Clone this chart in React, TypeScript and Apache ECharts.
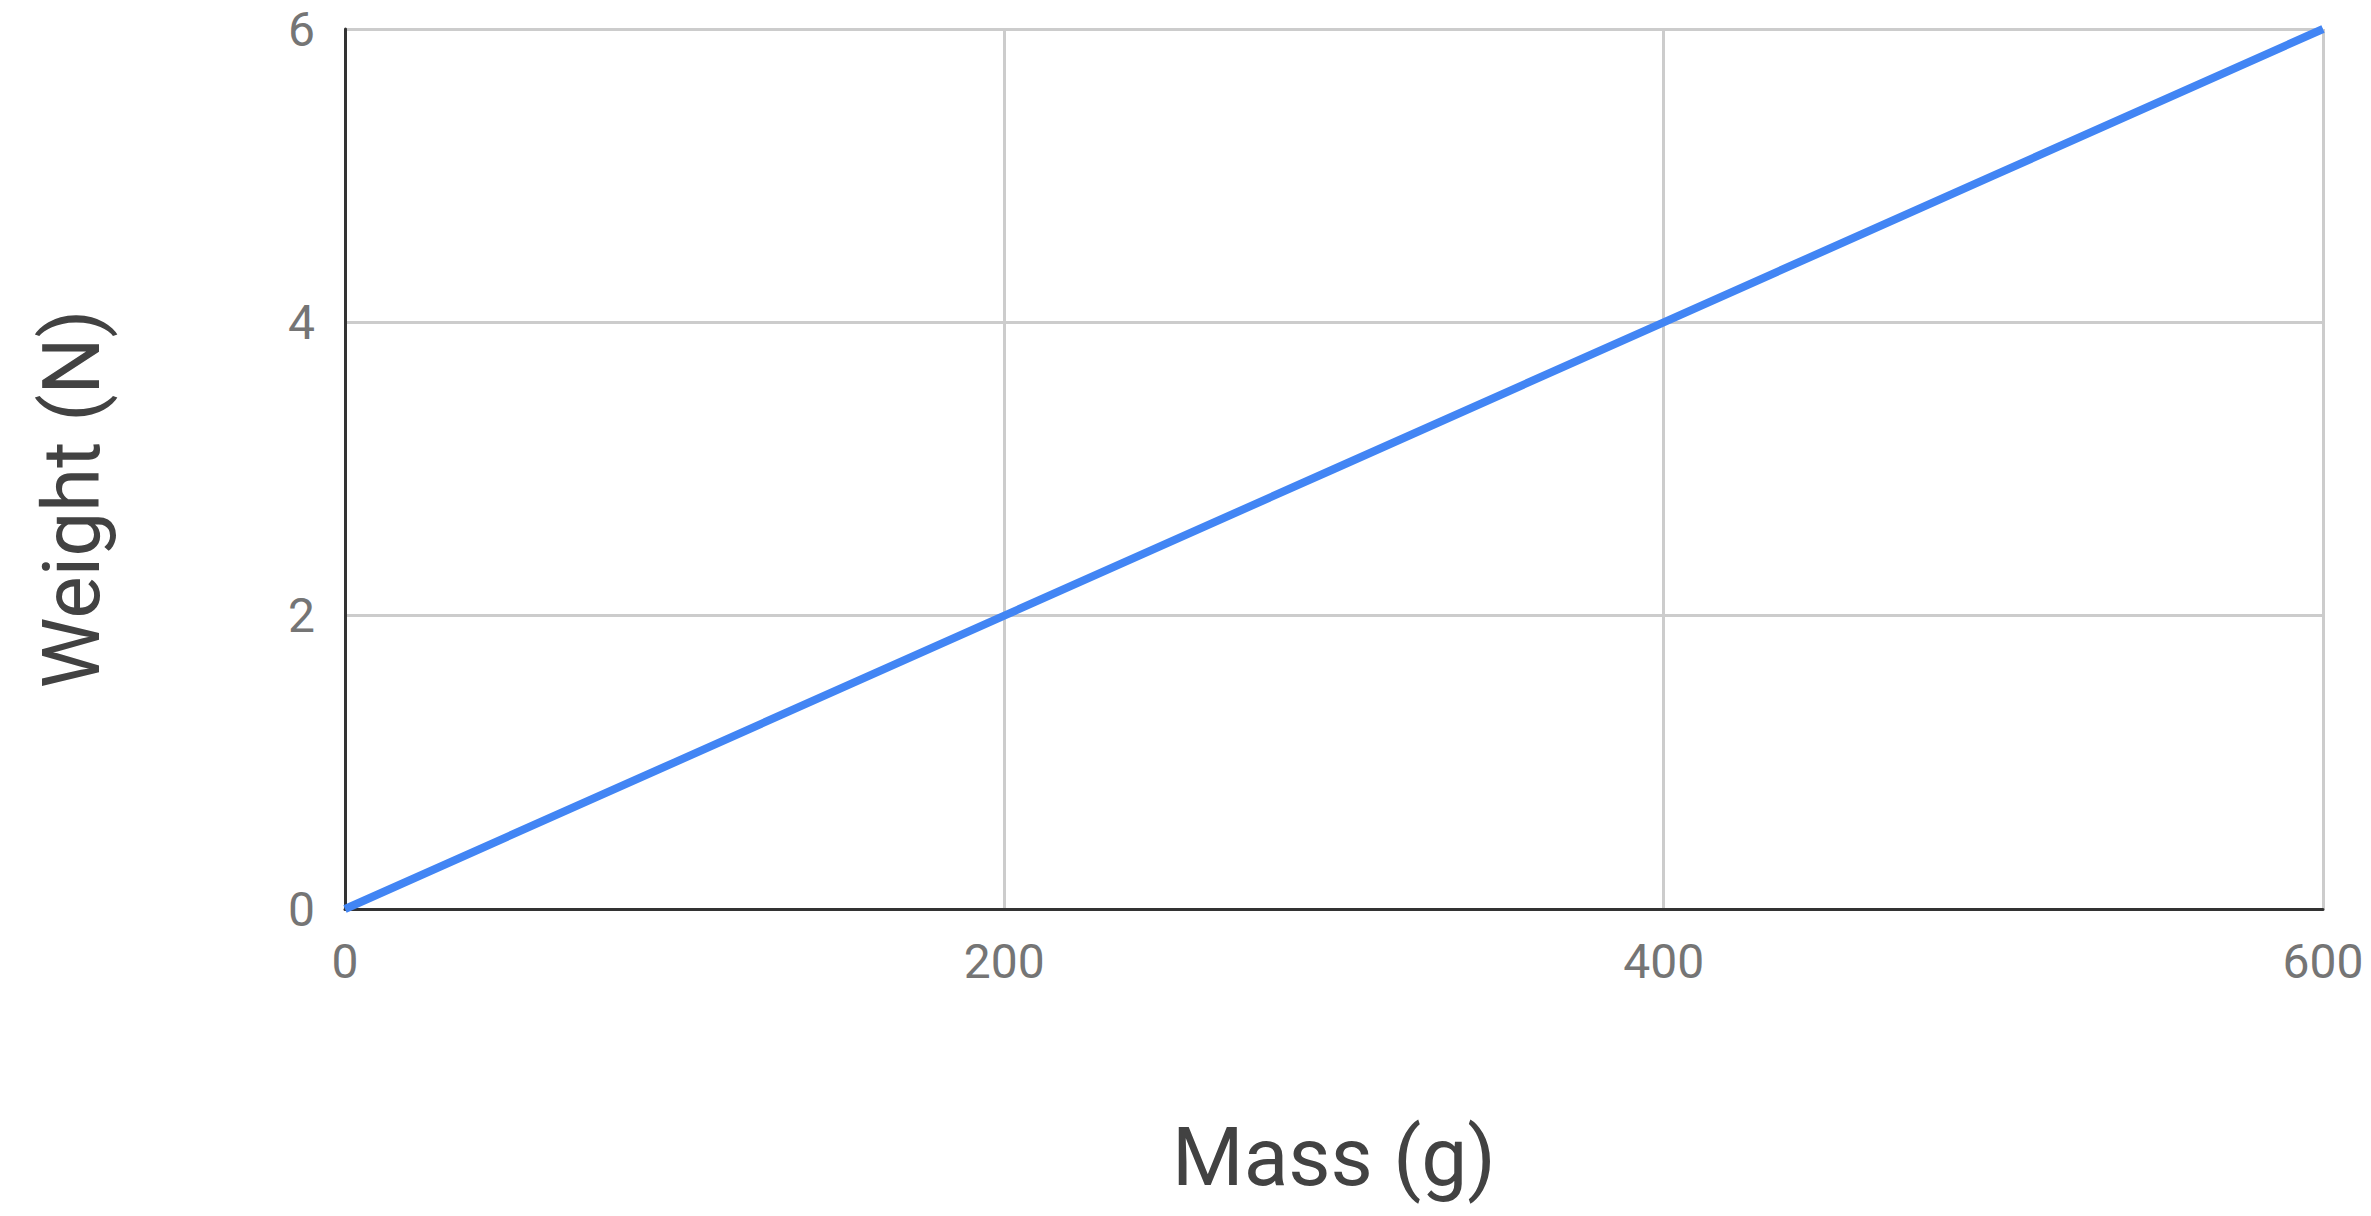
import React, { useEffect, useRef } from "react";
import * as echarts from "echarts";

const massValues = [0, 100, 200, 300, 400, 500, 600];
const weightValues = [0, 1, 2, 3, 4, 5, 6];
const xTitle = "Mass (g)";
const yTitle = "Weight (N)";

export default function App() {
  const ref = useRef<HTMLDivElement>(null);
  useEffect(() => {
    if (!ref.current) return;
    const chart = echarts.init(ref.current, null, { renderer: "svg" });
    const data = massValues.map((m, i) => [m, weightValues[i]]);
    chart.setOption({
      animation: false,
      backgroundColor: "#ffffff",
      grid: { left: 345, right: 48, top: 29, bottom: 307, containLabel: false },
      xAxis: {
        type: "value",
        min: 0,
        max: 600,
        interval: 200,
        axisLine: { show: true, onZero: false, lineStyle: { color: "#333333", width: 3 } },
        axisTick: { show: false },
        splitLine: { show: true, lineStyle: { color: "#cccccc", width: 3 } },
        axisLabel: { color: "#757575", fontSize: 48, fontFamily: "Roboto", margin: 28 },
      },
      yAxis: {
        type: "value",
        min: 0,
        max: 6,
        interval: 2,
        axisLine: { show: true, onZero: false, lineStyle: { color: "#333333", width: 3 } },
        axisTick: { show: false },
        splitLine: { show: true, lineStyle: { color: "#cccccc", width: 3 } },
        axisLabel: { color: "#757575", fontSize: 48, fontFamily: "Roboto", margin: 30 },
      },
      graphic: [
        {
          type: "text",
          x: 1334,
          y: 1198,
          style: {
            text: xTitle,
            x: 0,
            y: 0,
            fill: "#424242",
            font: "82px Roboto",
            textAlign: "center",
            textVerticalAlign: "bottom",
          },
        },
        {
          type: "text",
          x: 72,
          y: 499,
          rotation: Math.PI / 2,
          style: {
            text: yTitle,
            x: 0,
            y: 0,
            fill: "#424242",
            font: "80px Roboto",
            textAlign: "center",
            textVerticalAlign: "middle",
          },
        },
      ],
      series: [
        {
          type: "line",
          data,
          showSymbol: false,
          lineStyle: { color: "#4285F4", width: 8 },
        },
      ],
    });
    return () => chart.dispose();
  }, []);
  return (
    <div
      ref={ref}
      style={{ position: "fixed", left: 0, top: 0, width: 2371, height: 1216 }}
    />
  );
}
